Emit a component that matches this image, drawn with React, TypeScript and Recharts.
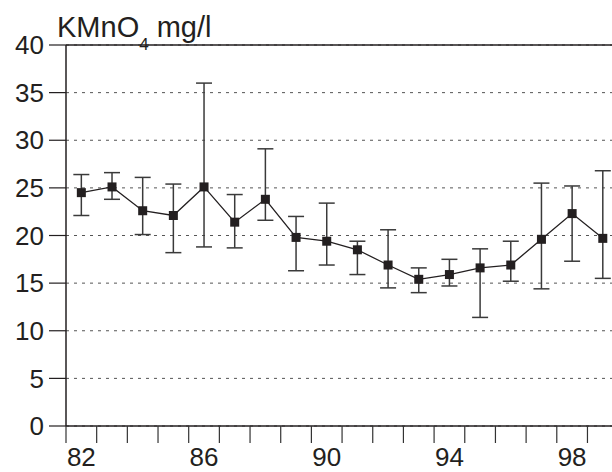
import React from 'react';
import {
  LineChart,
  Line,
  XAxis,
  YAxis,
  CartesianGrid,
  ErrorBar,
  ReferenceLine,
} from 'recharts';

// annual means with min/max range
const years = [82, 83, 84, 85, 86, 87, 88, 89, 90, 91, 92, 93, 94, 95, 96, 97, 98, 99];
const means = [24.5, 25.1, 22.6, 22.1, 25.1, 21.4, 23.8, 19.8, 19.4, 18.5, 16.9, 15.4, 15.9, 16.6, 16.9, 19.6, 22.3, 19.7];
const upper = [26.4, 26.6, 26.1, 25.4, 36.0, 24.3, 29.1, 22.0, 23.4, 19.4, 20.6, 16.6, 17.5, 18.6, 19.4, 25.5, 25.2, 26.8];
const lower = [22.1, 23.8, 20.1, 18.2, 18.8, 18.7, 21.6, 16.3, 16.9, 15.9, 14.5, 14.0, 14.7, 11.4, 15.2, 14.4, 17.3, 15.5];

const yTicks = [0, 5, 10, 15, 20, 25, 30, 35, 40];
const labelYears = [82, 86, 90, 94, 98];

const FONT = '"Liberation Sans", Arial, Helvetica, sans-serif';
const INK = '#231f20';

const W = 612;
const H = 472;
const Y_AXIS_W = 66;
const X_DOMAIN: [number, number] = [82, 99.8];
// half a year in pixels, so year labels sit between tick marks
const HALF_YEAR = (W - Y_AXIS_W) / (X_DOMAIN[1] - X_DOMAIN[0]) / 2;

// points sit in the middle of each year
const data = years.map((y, i) => ({
  x: y + 0.5,
  mean: means[i],
  err: [means[i] - lower[i], upper[i] - means[i]],
}));

const SquareDot = (props: any) => {
  const { cx, cy, index } = props;
  if (cx == null || cy == null) return null;
  return <rect key={`dot-${index}`} x={cx - 4.5} y={cy - 4.5} width={9} height={9} fill={INK} />;
};

const YearTick = (props: any) => {
  const { x, y, payload } = props;
  if (!labelYears.includes(payload.value)) return <g />;
  return (
    <text
      x={x + HALF_YEAR}
      y={y}
      dy="0.71em"
      textAnchor="middle"
      fontSize={26}
      fill={INK}
      fontFamily={FONT}
    >
      {payload.value}
    </text>
  );
};

const tickStyle = { fontSize: 26, fill: INK, fontFamily: FONT };

export default function App() {
  return (
    <div style={{ position: 'absolute', left: 0, top: 0, width: W, height: H, background: '#fff' }}>
      <LineChart
        width={W}
        height={H}
        data={data}
        margin={{ top: 45, right: 0, left: 0, bottom: 0 }}
      >
        <CartesianGrid
          vertical={false}
          stroke="#555"
          strokeDasharray="3 5"
          strokeWidth={1}
        />
        <XAxis
          dataKey="x"
          type="number"
          domain={X_DOMAIN}
          allowDataOverflow
          ticks={years}
          interval={0}
          tickSize={17}
          tickMargin={5}
          height={46}
          stroke={INK}
          strokeWidth={1.5}
          tickLine={{ stroke: '#333', strokeWidth: 1.2 }}
          tick={<YearTick />}
        />
        <YAxis
          domain={[0, 40]}
          ticks={yTicks}
          interval={0}
          width={Y_AXIS_W}
          tickSize={17}
          tickMargin={5}
          stroke={INK}
          strokeWidth={1.5}
          tickLine={{ stroke: INK, strokeWidth: 1.2 }}
          tick={tickStyle}
        />
        <ReferenceLine y={40} stroke={INK} strokeWidth={1.5} />
        <Line
          dataKey="mean"
          stroke={INK}
          strokeWidth={1.3}
          dot={<SquareDot />}
          activeDot={false}
          isAnimationActive={false}
        >
          <ErrorBar
            dataKey="err"
            direction="y"
            width={8}
            stroke="#3a3a3a"
            strokeWidth={1.5}
            isAnimationActive={false}
          />
        </Line>
      </LineChart>
      <div
        style={{
          position: 'absolute',
          left: 57,
          top: 13,
          fontFamily: FONT,
          fontSize: 29,
          lineHeight: 1,
          color: INK,
          whiteSpace: 'nowrap',
        }}
      >
        KMnO
        <span style={{ fontSize: 17, position: 'relative', top: 13 }}>4</span>
        {' mg/l'}
      </div>
    </div>
  );
}
